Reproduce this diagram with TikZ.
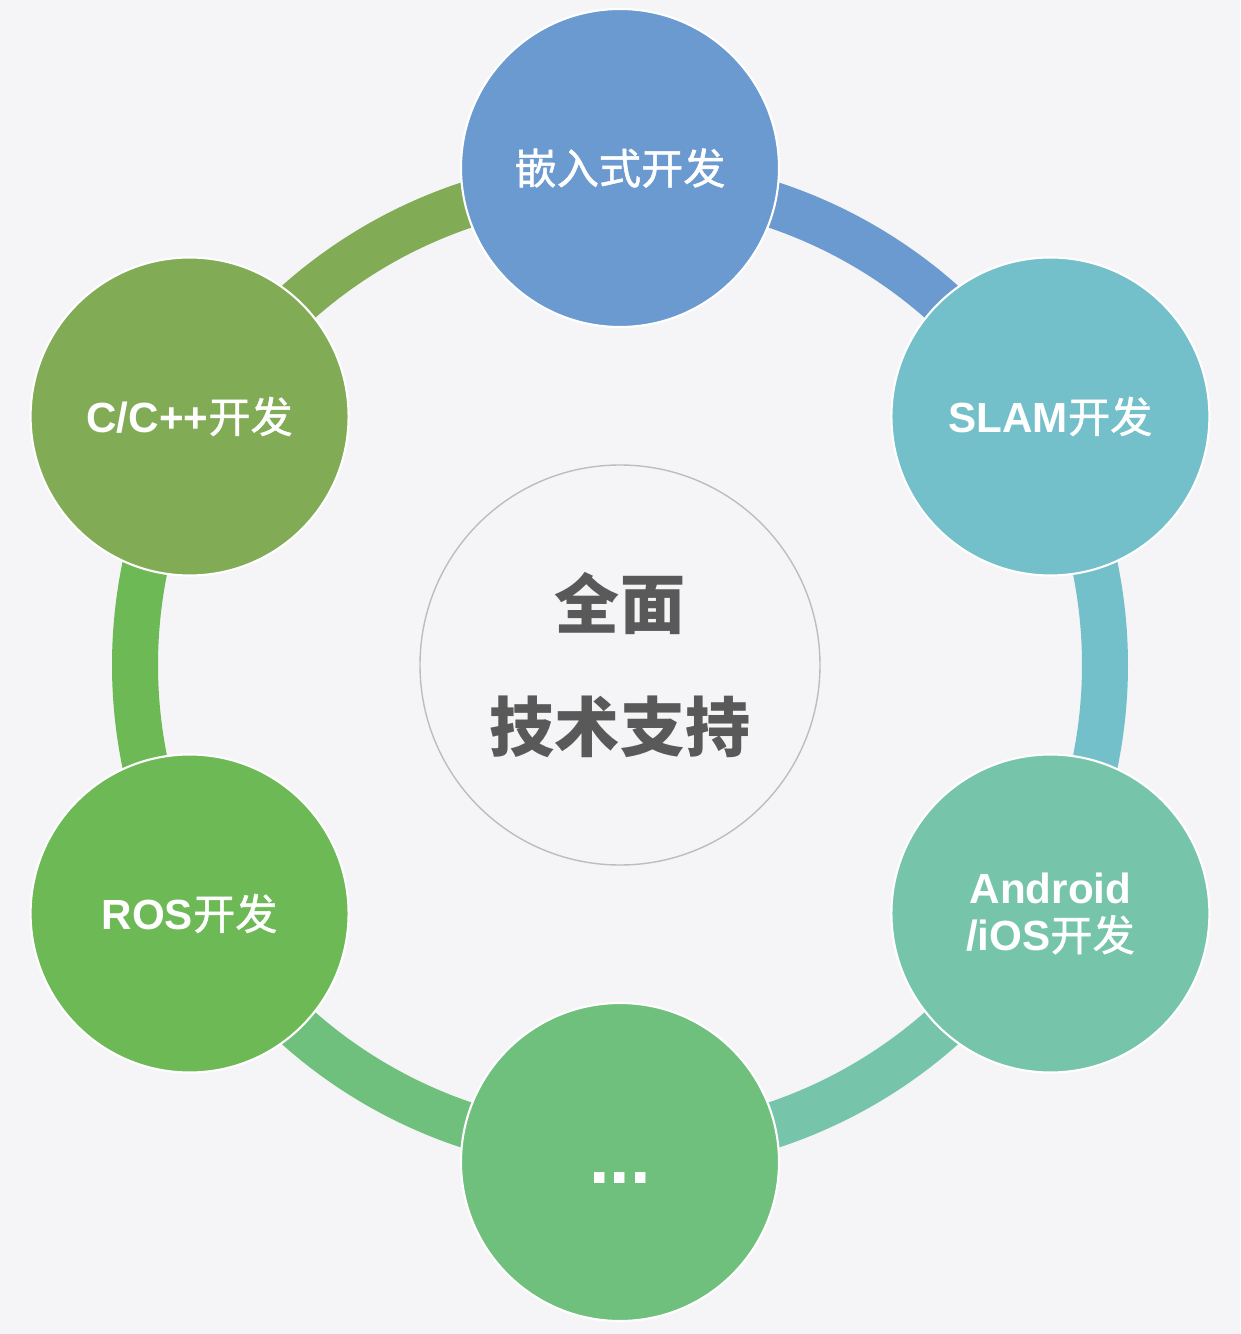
\documentclass[tikz,border=0pt]{standalone}
\usepackage{fontspec}
\setmainfont{Liberation Sans}
\newfontfamily\cjk[BoldFont={Noto Sans CJK SC},BoldFeatures={FakeBold=1.2}]{Noto Sans CJK SC}
\newfontfamily\cjkcentre{Noto Sans CJK SC}
\newcommand{\zh}[1]{{\cjk #1}}
\definecolor{bgcol}{HTML}{F5F5F7}
\definecolor{colA}{HTML}{6A9ACF}
\definecolor{colB}{HTML}{74C0CA}
\definecolor{colC}{HTML}{76C5AA}
\definecolor{colD}{HTML}{6FBF7D}
\definecolor{colE}{HTML}{6DB956}
\definecolor{colF}{HTML}{82AB55}
\definecolor{textgray}{HTML}{595959}
\definecolor{rimgray}{HTML}{BDBDBD}

\begin{document}
\begin{tikzpicture}
        \pgfmathsetmacro{\ringradius}{9.7}
        \pgfmathsetmacro{\noderadius}{9.94}

        %background
        \fill[bgcol] (-12.4,-13.38) rectangle (12.4,13.3);
        \useasboundingbox (-12.4,-13.38) rectangle (12.4,13.3);
        %draw centre circle
        \node[draw=rimgray,line width=0.8pt,fill=bgcol,circle,minimum size=8cm,text=textgray,align=center,font=\bfseries\fontsize{37}{70}\selectfont\cjkcentre] (nodeC) at (0,0) {全面\\技术支持};
        %draw ring segments
        \foreach \a/\c in {90/colA,30/colB,-30/colC,-90/colD,-150/colE,150/colF}{
            \draw[\c,line width=0.92cm] ([shift={(\a:\ringradius)}]nodeC.center) arc[start angle=\a,end angle=\a-60,radius=\ringradius];
        }
        %draw outer circles
        \foreach \i/\a/\c/\t in {1/90/colA/{\zh{嵌入式开发}},
                                 2/30/colB/{SLAM\zh{开发}},
                                 3/-30/colC/{Android\\/iOS\zh{开发}},
                                 4/-90/colD/{\fontsize{42}{42}\selectfont\rule[-2pt]{0pt}{28pt}...},
                                 5/-150/colE/{ROS\zh{开发}},
                                 6/150/colF/{C/C++\zh{开发}}}{
            \node[draw=white,line width=1.2pt,fill=\c,circle,minimum size=6.36cm,text=white,align=center,font=\bfseries\fontsize{24}{27}\selectfont] (node\i) at (\a:\noderadius) {\t};
        }

      \end{tikzpicture}
\end{document}
